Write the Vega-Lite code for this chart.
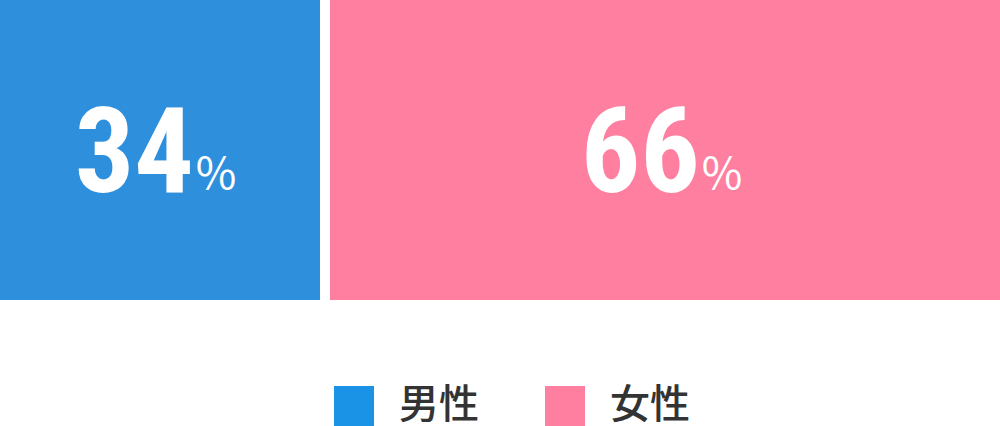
{
  "$schema": "https://vega.github.io/schema/vega-lite/v6.json",
  "width": 1000,
  "height": 300,
  "padding": 0,
  "background": "white",
  "config": {"view": {"stroke": null}},
  "data": {
    "values": [
      {"sex": "男性", "pct": 34, "order": 1},
      {"sex": "女性", "pct": 66, "order": 2}
    ]
  },
  "transform": [
    {"stack": "pct", "groupby": [], "sort": [{"field": "order"}], "as": ["x0", "x1"]},
    {"calculate": "(datum.x0 + datum.x1) / 2", "as": "mid"}
  ],
  "encoding": {
    "x": {
      "field": "x0",
      "type": "quantitative",
      "scale": {"domain": [0, 100], "nice": false, "zero": false},
      "axis": null
    },
    "x2": {"field": "x1"}
  },
  "layer": [
    {
      "transform": [{"filter": "datum.sex == '男性'"}],
      "mark": {"type": "rect", "x2Offset": -20, "color": "#2e8fdd"}
    },
    {
      "transform": [{"filter": "datum.sex == '女性'"}],
      "mark": {"type": "rect", "xOffset": -10, "color": "#fe7f9f"}
    },
    {
      "mark": {"type": "square", "size": 0, "filled": true, "opacity": 1},
      "encoding": {
        "x": {"field": "mid", "type": "quantitative"},
        "x2": null,
        "color": {
          "field": "sex",
          "type": "nominal",
          "scale": {"domain": ["男性", "女性"], "range": ["#1a93e6", "#fe7f9f"]},
          "legend": {
            "title": null,
            "orient": "none",
            "legendX": 334,
            "legendY": 386,
            "direction": "horizontal",
            "symbolType": "square",
            "symbolSize": 1600,
            "symbolStrokeWidth": 0,
            "symbolOpacity": 1,
            "labelFont": "Noto Sans CJK JP",
            "labelFontSize": 40,
            "labelFontWeight": 500,
            "labelColor": "#333333",
            "labelOffset": 25,
            "labelLimit": 200,
            "columnPadding": 66,
            "labelBaseline": "middle"
          }
        }
      }
    },
    {
      "transform": [{"filter": "datum.sex == '男性'"}],
      "encoding": {"x": {"field": "mid", "type": "quantitative"}, "x2": null},
      "layer": [
        {
          "mark": {
            "type": "text",
            "align": "right",
            "baseline": "alphabetic",
            "dx": 24,
            "dy": 42,
            "font": "Roboto Condensed, Open Sans Condensed, Noto Sans Condensed, Arial Narrow, Roboto",
            "fontWeight": "bold",
            "fontSize": 118,
            "color": "white"
          },
          "encoding": {"text": {"field": "pct", "type": "nominal"}}
        },
        {
          "mark": {
            "type": "text",
            "align": "left",
            "baseline": "alphabetic",
            "dx": 24,
            "dy": 40,
            "font": "Noto Sans CJK JP",
            "fontSize": 44,
            "color": "white",
            "text": "％"
          }
        }
      ]
    },
    {
      "transform": [{"filter": "datum.sex == '女性'"}],
      "encoding": {"x": {"field": "mid", "type": "quantitative"}, "x2": null},
      "layer": [
        {
          "mark": {
            "type": "text",
            "align": "right",
            "baseline": "alphabetic",
            "dx": 30,
            "dy": 42,
            "font": "Roboto Condensed, Open Sans Condensed, Noto Sans Condensed, Arial Narrow, Roboto",
            "fontWeight": "bold",
            "fontSize": 118,
            "color": "white"
          },
          "encoding": {"text": {"field": "pct", "type": "nominal"}}
        },
        {
          "mark": {
            "type": "text",
            "align": "left",
            "baseline": "alphabetic",
            "dx": 30,
            "dy": 40,
            "font": "Noto Sans CJK JP",
            "fontSize": 44,
            "color": "white",
            "text": "％"
          }
        }
      ]
    }
  ]
}
